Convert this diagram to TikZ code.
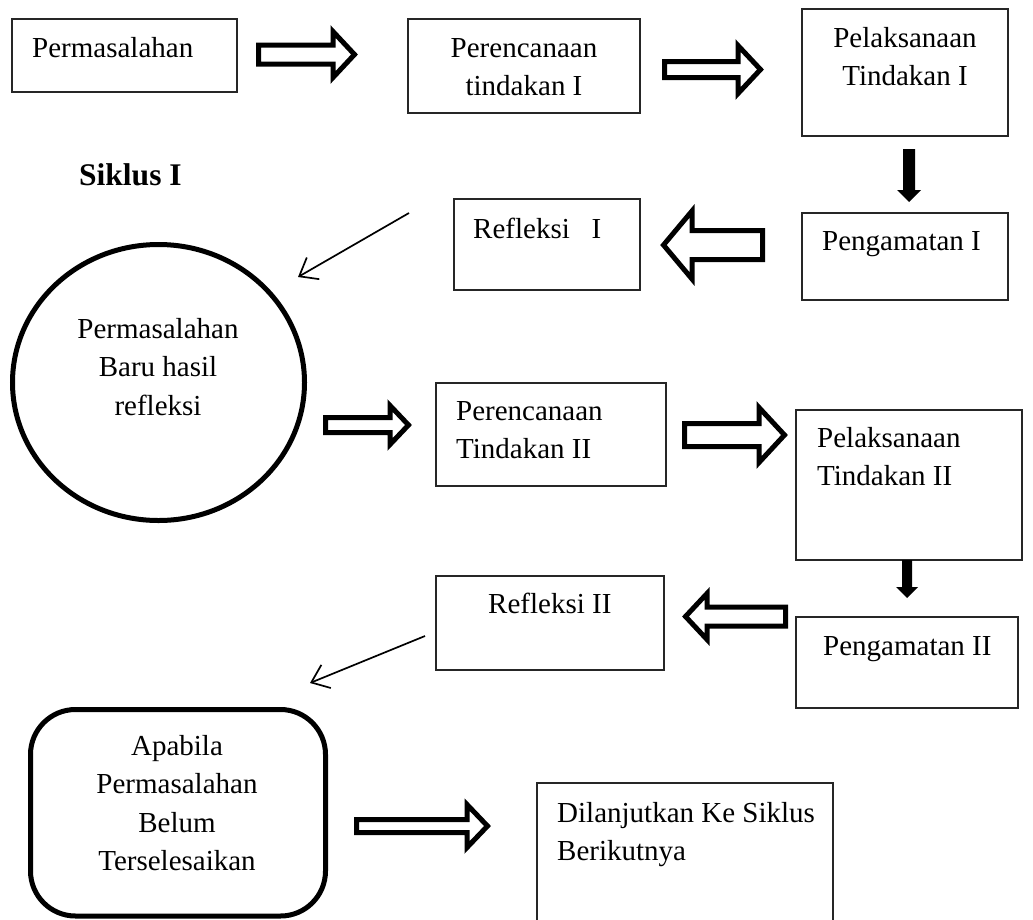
\documentclass[tikz,border=0pt]{standalone}
\usepackage{fontspec}
\setmainfont{Liberation Serif}
\usetikzlibrary{arrows.meta,shapes.geometric}
\newcommand{\rblock}[6]{% x0, xbase, xtip, yc, shaft half, head half
  \draw[blockarrow] (#1,#4-#5) -- (#2,#4-#5) -- (#2,#4-#6) -- (#3,#4) -- (#2,#4+#6) -- (#2,#4+#5) -- (#1,#4+#5) -- cycle;}
\newcommand{\lblock}[6]{% xtip, xbase, xright, yc, shaft half, head half
  \draw[blockarrow] (#3,#4-#5) -- (#2,#4-#5) -- (#2,#4-#6) -- (#1,#4) -- (#2,#4+#6) -- (#2,#4+#5) -- (#3,#4+#5) -- cycle;}
\newcommand{\dsolid}[7]{% xc, ytop, ybase, ytip, shaft half, head half
  \fill[black] (#1-#5,#2) -- (#1+#5,#2) -- (#1+#5,#3) -- (#1+#6,#3) -- (#1,#4) -- (#1-#6,#3) -- (#1-#5,#3) -- cycle;}
\begin{document}
\begin{tikzpicture}[x=1pt,y=-1pt,
  font=\fontsize{29}{38.5}\selectfont,
  box/.style={draw=black!85,line width=1.3pt,inner sep=0pt},
  txt/.style={inner sep=0pt,anchor=base west,align=left},
  ctxt/.style={inner sep=0pt,anchor=base,align=center},
  blockarrow/.style={draw=black,line width=5pt,line join=miter,fill=white},
  thinarrow/.style={line width=1.7pt,-{Straight Barb[length=16pt,width=25pt]}}]
\useasboundingbox (0,0) rectangle (1033,919);
% boxes
\node[box,minimum width=225pt,minimum height=73pt] (b1) at (124.5,55.5) {};
\node[box,minimum width=232pt,minimum height=94pt] (b2) at (524,66) {};
\node[box,minimum width=206pt,minimum height=127pt] (b3) at (905,72.5) {};
\node[box,minimum width=206pt,minimum height=87pt] (b4) at (905,256.5) {};
\node[box,minimum width=186pt,minimum height=91pt] (b5) at (547,244.5) {};
\node[box,minimum width=230pt,minimum height=103pt] (b6) at (551,434.5) {};
\node[box,minimum width=226pt,minimum height=150pt] (b7) at (909,485) {};
\node[box,minimum width=228pt,minimum height=94pt] (b8) at (550,623) {};
\node[box,minimum width=222pt,minimum height=91pt] (b9) at (907,662.5) {};
\node[box,minimum width=296pt,minimum height=157pt] (b10) at (685,861.5) {};
\node[draw,line width=5pt,ellipse,inner sep=0pt,minimum width=292pt,minimum height=276pt] (c) at (158.5,382.5) {};
\node[draw,line width=5pt,rounded corners=45pt,inner sep=0pt,minimum width=295pt,minimum height=206.5pt] (r) at (178,812.75) {};
% texts (multi-line nodes: base = baseline of last line)
\node[txt] (t1) at (32,57) {Permasalahan};
\node[ctxt] (t2) at (524,95.5) {Perencanaan\\tindakan I};
\node[ctxt] (t3) at (905,85.5) {Pelaksanaan\\Tindakan I};
\node[txt] (t4) at (822,250) {Pengamatan I};
\node[txt] (t5) at (473,238) {Refleksi\ \ \ I};
\node[txt,font=\fontsize{31.5}{38.5}\selectfont\bfseries] (siklus) at (79,185) {Siklus I};
\node[ctxt] (t6) at (158,415) {Permasalahan\\Baru hasil\\refleksi};
\node[txt] (t7) at (456,458.5) {Perencanaan\\Tindakan II};
\node[txt] (t8) at (817,485.5) {Pelaksanaan\\Tindakan II};
\node[txt] (t9) at (488,613) {Refleksi II};
\node[txt] (t10) at (823,655) {Pengamatan II};
\node[ctxt] (t11) at (177,870.5) {Apabila\\Permasalahan\\Belum\\Terselesaikan};
\node[txt] (t12) at (557,860.5) {Dilanjutkan Ke Siklus\\Berikutnya};
% block arrows
\rblock{258.5}{333}{354.5}{54.5}{9.5}{23}
\rblock{664.5}{738}{760.5}{69.5}{8}{24}
\rblock{325.5}{390}{408.5}{425}{7.5}{19.5}
\rblock{684.5}{759}{784.5}{435}{11.5}{27.5}
\rblock{356.5}{467}{487.5}{826}{6.5}{21.5}
\lblock{663.5}{692}{762.5}{245}{14.5}{34}
\lblock{685.5}{707}{785.5}{616.5}{9.5}{23}
\dsolid{909}{149}{190}{202}{6}{12}{}
\dsolid{907}{560}{587}{598}{5}{11}{}
% thin arrows
\coordinate (a1s) at (409,213);
\coordinate (a1e) at (298,277);
\coordinate (a2s) at (425,636);
\coordinate (a2e) at (310,683);
\draw[thinarrow] (a1s) -- (a1e);
\draw[thinarrow] (a2s) -- (a2e);
\end{tikzpicture}
\end{document}
